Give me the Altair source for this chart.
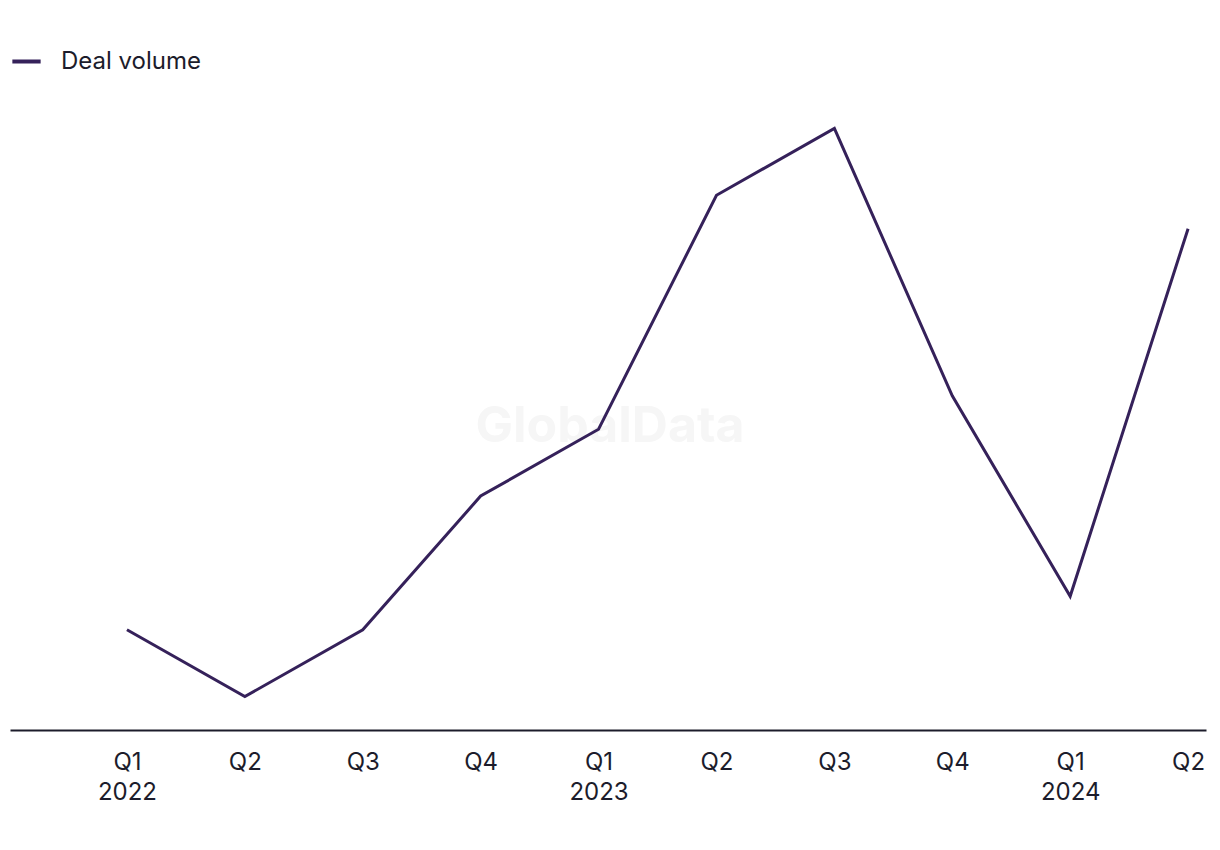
import altair as alt
import pandas as pd

quarters = ["Q1", "Q2", "Q3", "Q4", "Q1", "Q2", "Q3", "Q4", "Q1", "Q2"]
years = ["2022", "", "", "", "2023", "", "", "", "2024", ""]
deal_volume = [3, 1, 3, 7, 9, 16, 18, 10, 4, 15]
series_name = "Deal volume"

df = pd.DataFrame({
    "i": list(range(len(quarters))),
    "quarter": quarters,
    "year": years,
    "value": deal_volume,
    "series": [series_name] * len(quarters),
})

label_arr = "[" + ",".join(
    "['%s','%s']" % (q, y) if y else "['%s']" % q for q, y in zip(quarters, years)
) + "]"

FONT = "Inter"
TEXT = "#1c1c2b"
LINE = "#35215a"

line = alt.Chart(df).mark_line(strokeWidth=3, strokeJoin="miter").encode(
    x=alt.X("i:Q", scale=alt.Scale(domain=[-0.992, 9.152], nice=False, zero=False),
            axis=alt.Axis(title=None, values=list(range(len(quarters))),
                          labelExpr=label_arr + "[datum.value]",
                          grid=False, ticks=False, domainColor=TEXT, domainWidth=2,
                          labelFont=FONT, labelFontSize=24, labelColor=TEXT,
                          labelPadding=20, labelLineHeight=30, labelAlign="center",
                          labelBaseline="top")),
    y=alt.Y("value:Q", scale=alt.Scale(domain=[0, 19], nice=False), axis=None),
    color=alt.Color("series:N", scale=alt.Scale(range=[LINE]),
                    legend=alt.Legend(title=None, orient="none", legendX=0, legendY=-50,
                                      symbolType="stroke", symbolSize=800, symbolStrokeWidth=4,
                                      labelFont=FONT, labelFontSize=24, labelColor=TEXT,
                                      labelOffset=18)),
)

watermark = alt.Chart(pd.DataFrame({"t": ["GlobalData"]})).mark_text(
    font=FONT, fontSize=50, fontWeight="bold", color="#f6f6f6", align="center", baseline="middle"
).encode(text="t:N", x=alt.value(600), y=alt.value(332))

chart = alt.layer(watermark, line).properties(
    width=1196, height=635,
    autosize=alt.AutoSizeParams(type="none"),
    padding={"left": 2, "top": 87, "right": 6, "bottom": 110},
    background="white",
).configure_view(stroke=None)

chart.save("out.html", embed_options={"renderer": "svg", "actions": False})
